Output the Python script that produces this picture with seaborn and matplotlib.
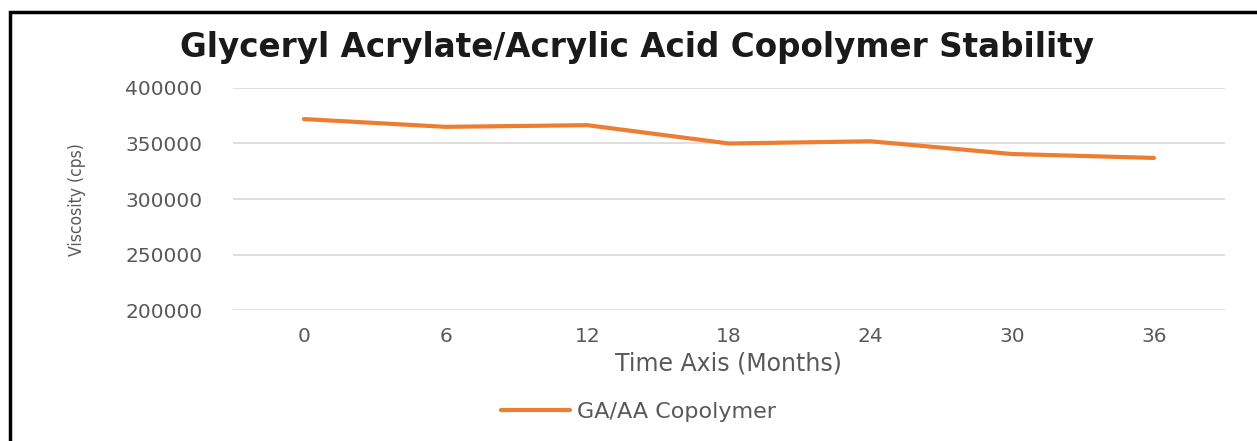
import matplotlib.pyplot as plt
import matplotlib.patches as mpatches
import pandas as pd
import seaborn as sns

# valores
months = ['0', '6', '12', '18', '24', '30', '36']
viscosity = [372000, 365000, 366500, 350000, 352000, 340500, 337000]
series_name = 'GA/AA Copolymer'

df = pd.DataFrame({'month': months, 'viscosity': viscosity, 'serie': series_name})

sns.set_style('white')
plt.rcParams['font.family'] = ['DejaVu Sans']

fig = plt.figure(figsize=(12.57, 4.41), dpi=100)
ax = fig.add_axes([0.1854, 0.297, 0.789, 0.5035])

sns.lineplot(data=df, x='month', y='viscosity', hue='serie', sort=False,
             palette=['#ED7D31'], linewidth=3, ax=ax, legend=False)

ax.set_xlim(-0.5, len(months) - 0.5)
ax.set_ylim(200000, 400000)
ax.set_yticks(range(200000, 400001, 50000))
ax.set_yticklabels([str(v) for v in range(200000, 400001, 50000)])
ax.yaxis.grid(True, color='#d9d9d9', linewidth=1.2)
ax.xaxis.grid(False)
for s in ax.spines.values():
    s.set_visible(False)
ax.tick_params(axis='both', length=0, labelsize=14.5, labelcolor='#595959')
ax.tick_params(axis='y', pad=22)
ax.tick_params(axis='x', pad=12)

ax.set_xlabel('Time Axis (Months)', fontsize=17, color='#595959', labelpad=4)
ax.set_ylabel('')
fig.text(0.0613, 0.548, 'Viscosity (cps)', rotation=90, ha='center', va='center',
         fontsize=12.5, color='#595959', fontstretch='condensed')

fig.suptitle('Glyceryl Acrylate/Acrylic Acid Copolymer Stability',
             x=0.507, y=0.893, ha='center', va='center', fontsize=23.5,
             fontweight='bold', color='#1a1a1a')

# legenda em baixo
h = [plt.Line2D([], [], color='#ED7D31', linewidth=3)]
fig.legend(h, [series_name], loc='center', bbox_to_anchor=(0.508, 0.066), frameon=False,
           fontsize=16, labelcolor='#595959', handlelength=3.1, handletextpad=0.35)

# moldura
fig.patches.append(mpatches.Rectangle((10 / 1257, -0.2), 1.2, 0.2 + 1 - 12 / 441,
                                      transform=fig.transFigure, fill=False,
                                      edgecolor='black', linewidth=2.5))

fig.savefig('out.png', dpi=100)
